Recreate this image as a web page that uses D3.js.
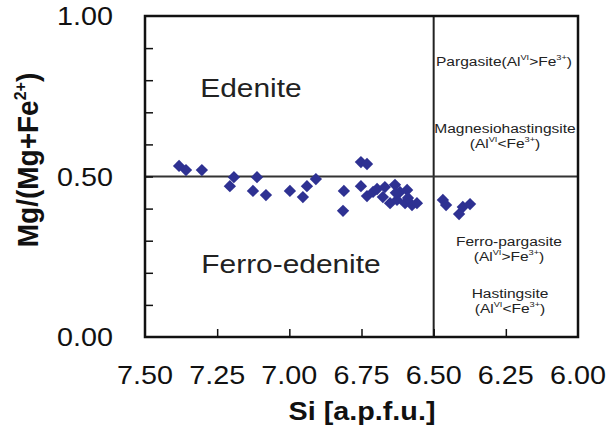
<!DOCTYPE html>
<html><head><meta charset="utf-8">
<script src="https://cdn.jsdelivr.net/npm/d3@7"></script>
<style>body{margin:0;background:#fff;} svg{display:block;font-family:"Liberation Sans",Arial,sans-serif;}</style>
</head><body>
<script>
// Si (a.p.f.u.) values
const siValues = [7.382,7.358,7.303,7.192,7.206,7.112,7.126,7.081,6.998,6.953,6.939,6.908,6.811,6.814,6.752,6.731,6.752,6.731,6.710,6.696,6.669,6.634,6.676,6.651,6.617,6.592,6.627,6.599,6.575,6.558,6.589,6.631,6.468,6.457,6.412,6.399,6.374];
// Mg/(Mg+Fe2+) values
const mgValues = [0.533,0.520,0.520,0.498,0.470,0.498,0.455,0.442,0.455,0.436,0.470,0.492,0.455,0.393,0.545,0.539,0.470,0.439,0.452,0.461,0.467,0.474,0.436,0.417,0.452,0.458,0.427,0.417,0.411,0.417,0.433,0.449,0.427,0.411,0.383,0.405,0.414];
const xTicks = [7.50,7.25,7.00,6.75,6.50,6.25,6.00];
const yTickLabels = [0.00,0.50,1.00];
const yMinorTicks = [0.1,0.2,0.3,0.4,0.5,0.6,0.7,0.8,0.9];

const W=608,H=429, L=145,R=578,T=16,B=337, SX=1.15;
const svg=d3.select("body").append("svg").attr("width",W).attr("height",H);
const x=d3.scaleLinear().domain([7.5,6.0]).range([L,R]);
const y=d3.scaleLinear().domain([0,1]).range([B,T]);

function txt(g,xp,yp,str,size,opts={}){
  const sx = opts.sx || SX;
  const t=g.append("text").attr("transform",`translate(${xp},${yp}) scale(${sx},1)`+(opts.rot?` rotate(${opts.rot})`:""))
    .attr("font-size",size).attr("text-anchor",opts.anchor||"middle").attr("fill",opts.fill||"#111");
  if(opts.bold) t.attr("font-weight","bold");
  return t;
}

// divider lines
svg.append("line").attr("x1",x(6.5)).attr("x2",x(6.5)).attr("y1",T).attr("y2",B).attr("stroke","#222").attr("stroke-width",2);
svg.append("line").attr("x1",L).attr("x2",R).attr("y1",y(0.5)).attr("y2",y(0.5)).attr("stroke","#333").attr("stroke-width",2);

// axes (ticks inward)
const xAxis=d3.axisBottom(x).tickValues(xTicks.slice(1,-1)).tickSize(-8).tickFormat("");
const gx=svg.append("g").attr("transform",`translate(0,${B})`).call(xAxis);
gx.select(".domain").remove();
gx.selectAll(".tick line").attr("stroke","#111").attr("stroke-width",1.5);
const yAxis=d3.axisLeft(y).tickValues(yMinorTicks).tickSize(-8).tickFormat("");
const gy=svg.append("g").attr("transform",`translate(${L},0)`).call(yAxis);
gy.select(".domain").remove();
gy.selectAll(".tick line").attr("stroke","#111").attr("stroke-width",1.5);

// frame
svg.append("rect").attr("x",L).attr("y",T).attr("width",R-L).attr("height",B-T).attr("fill","none").attr("stroke","#111").attr("stroke-width",2.5);

// tick labels
xTicks.forEach(v=>{ txt(svg,x(v),384,"",25).text(d3.format(".2f")(v)); });
yTickLabels.forEach(v=>{ txt(svg,113,y(v)+9,"",25,{anchor:"end"}).text(d3.format(".2f")(v)); });

// axis titles
txt(svg,362,420,"",25,{bold:true}).text("Si [a.p.f.u.]");
const yt=txt(svg,38,160,"",28,{bold:true,rot:-90,sx:1.08});
yt.append("tspan").text("Mg/(Mg+Fe");
yt.append("tspan").attr("font-size",16).attr("dy",-11).text("2+");
yt.append("tspan").attr("dy",11).text(")");

// region labels
txt(svg,251,97,"",26,{fill:"#222"}).text("Edenite");
txt(svg,291,273,"",26,{fill:"#222"}).text("Ferro-edenite");

function chemLabel(cx,cy,prefix,rel){
  const t=txt(svg,cx,cy,"",13.5,{fill:"#222"});
  t.append("tspan").text(prefix+"(Al");
  t.append("tspan").attr("font-size",8).attr("dy",-6).text("VI");
  t.append("tspan").attr("dy",6).text(rel+"Fe");
  t.append("tspan").attr("font-size",8).attr("dy",-6).text("3+");
  t.append("tspan").attr("dy",6).text(")");
}
chemLabel(504,66,"Pargasite",">");
txt(svg,505,133,"",13.5,{fill:"#222"}).text("Magnesiohastingsite");
chemLabel(505,148,"","<");
txt(svg,509,246,"",13.5,{fill:"#222"}).text("Ferro-pargasite");
chemLabel(509,261,"",">");
txt(svg,510,298,"",13.5,{fill:"#222"}).text("Hastingsite");
chemLabel(510,313,"","<");

// points
const sym=d3.symbol().type(d3.symbolSquare).size(76);
svg.append("g").selectAll("path").data(siValues.map((s,i)=>[s,mgValues[i]])).join("path")
  .attr("d",sym).attr("transform",d=>`translate(${x(d[0])},${y(d[1])}) rotate(45)`)
  .attr("fill","#2e3192");
</script>
</body></html>
